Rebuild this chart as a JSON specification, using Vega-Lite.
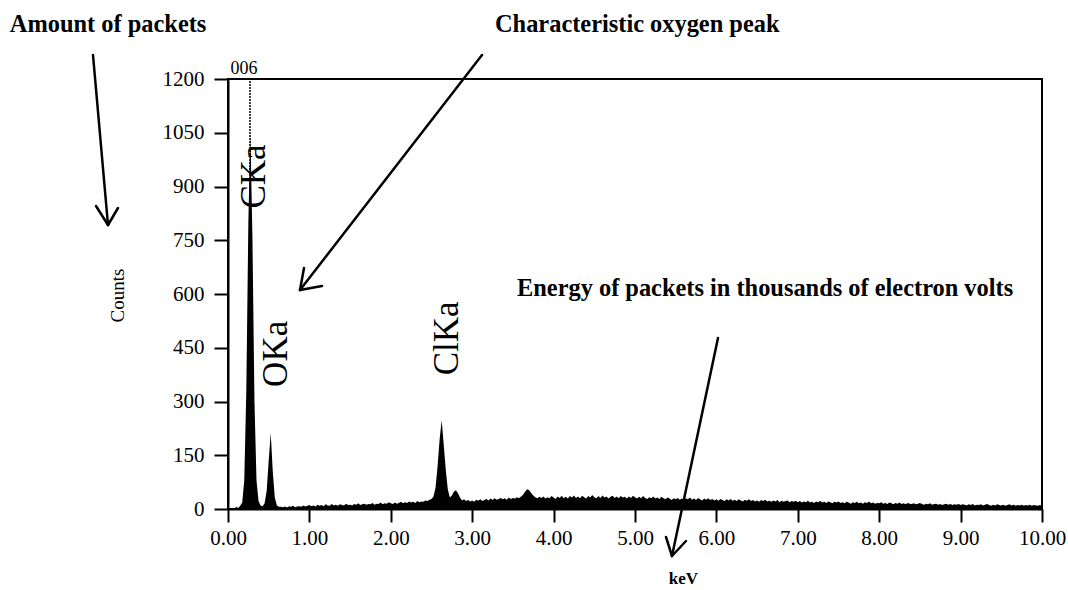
{
  "$schema": "https://vega.github.io/schema/vega-lite/v6.json",
  "width": 814,
  "height": 430,
  "autosize": {"type": "none"},
  "padding": {"left": 228, "top": 79, "right": 26, "bottom": 81},
  "background": "white",
  "config": {
    "font": "Liberation Serif",
    "view": {"stroke": "black", "strokeWidth": 2},
    "axis": {"labelFont": "Liberation Serif", "titleFont": "Liberation Serif", "labelColor": "black", "titleColor": "black", "domainColor": "black", "tickColor": "black", "domainWidth": 2, "tickWidth": 2, "grid": false, "labelFlush": false, "labelOverlap": false}
  },
  "datasets": {
    "spectrum": [
      {"e":0.000,"c":0},{"e":0.025,"c":0},{"e":0.050,"c":0},{"e":0.075,"c":0},{"e":0.100,"c":6},{"e":0.125,"c":3},{"e":0.150,"c":9},{"e":0.175,"c":18},{"e":0.200,"c":80},{"e":0.225,"c":330},{"e":0.250,"c":800},{"e":0.275,"c":1050},{"e":0.300,"c":760},{"e":0.325,"c":300},{"e":0.350,"c":80},{"e":0.375,"c":22},{"e":0.400,"c":10},{"e":0.425,"c":8},{"e":0.450,"c":16},{"e":0.475,"c":50},{"e":0.500,"c":135},{"e":0.525,"c":212},{"e":0.550,"c":105},{"e":0.575,"c":32},{"e":0.600,"c":10},{"e":0.625,"c":6},
      {"e":0.650,"c":6},{"e":0.675,"c":5},{"e":0.700,"c":7},{"e":0.725,"c":4},{"e":0.750,"c":8},{"e":0.775,"c":6},{"e":0.800,"c":9},{"e":0.825,"c":5},{"e":0.850,"c":7},{"e":0.875,"c":8},{"e":0.900,"c":6},{"e":0.925,"c":10},{"e":0.950,"c":7},{"e":0.975,"c":9},
      {"e":1.000,"c":11},{"e":1.025,"c":8},{"e":1.050,"c":10},{"e":1.075,"c":7},{"e":1.100,"c":12},{"e":1.125,"c":9},{"e":1.150,"c":11},{"e":1.175,"c":8},{"e":1.200,"c":13},{"e":1.225,"c":10},
      {"e":1.250,"c":9},{"e":1.275,"c":14},{"e":1.300,"c":10},{"e":1.325,"c":12},{"e":1.350,"c":9},{"e":1.375,"c":13},{"e":1.400,"c":11},{"e":1.425,"c":10},{"e":1.450,"c":15},{"e":1.475,"c":11},
      {"e":1.500,"c":12},{"e":1.525,"c":10},{"e":1.550,"c":14},{"e":1.575,"c":12},{"e":1.600,"c":16},{"e":1.625,"c":11},{"e":1.650,"c":13},{"e":1.675,"c":15},{"e":1.700,"c":12},{"e":1.725,"c":14},
      {"e":1.750,"c":13},{"e":1.775,"c":17},{"e":1.800,"c":12},{"e":1.825,"c":15},{"e":1.850,"c":14},{"e":1.875,"c":18},{"e":1.900,"c":13},{"e":1.925,"c":16},{"e":1.950,"c":15},{"e":1.975,"c":19},
      {"e":2.000,"c":16},{"e":2.025,"c":14},{"e":2.050,"c":18},{"e":2.075,"c":15},{"e":2.100,"c":17},{"e":2.125,"c":20},{"e":2.150,"c":16},{"e":2.175,"c":19},{"e":2.200,"c":17},{"e":2.225,"c":21},
      {"e":2.250,"c":18},{"e":2.275,"c":20},{"e":2.300,"c":17},{"e":2.325,"c":22},{"e":2.350,"c":19},{"e":2.375,"c":21},{"e":2.400,"c":20},{"e":2.425,"c":24},{"e":2.450,"c":22},{"e":2.475,"c":26},
      {"e":2.500,"c":28},{"e":2.525,"c":35},{"e":2.550,"c":60},{"e":2.575,"c":120},{"e":2.600,"c":195},{"e":2.625,"c":248},{"e":2.650,"c":180},{"e":2.675,"c":110},{"e":2.700,"c":55},{"e":2.725,"c":32},
      {"e":2.750,"c":38},{"e":2.775,"c":48},{"e":2.800,"c":52},{"e":2.825,"c":44},{"e":2.850,"c":32},{"e":2.875,"c":24},{"e":2.900,"c":27},{"e":2.925,"c":22},{"e":2.950,"c":25},{"e":2.975,"c":21},
      {"e":3.000,"c":24},{"e":3.025,"c":20},{"e":3.050,"c":26},{"e":3.075,"c":23},{"e":3.100,"c":27},{"e":3.125,"c":22},{"e":3.150,"c":25},{"e":3.175,"c":28},{"e":3.200,"c":24},{"e":3.225,"c":29},
      {"e":3.250,"c":25},{"e":3.275,"c":30},{"e":3.300,"c":26},{"e":3.325,"c":28},{"e":3.350,"c":31},{"e":3.375,"c":27},{"e":3.400,"c":30},{"e":3.425,"c":26},{"e":3.450,"c":32},{"e":3.475,"c":28},
      {"e":3.500,"c":31},{"e":3.525,"c":29},{"e":3.550,"c":33},{"e":3.575,"c":30},{"e":3.600,"c":35},{"e":3.625,"c":40},{"e":3.650,"c":48},{"e":3.675,"c":55},{"e":3.700,"c":52},{"e":3.725,"c":45},
      {"e":3.750,"c":38},{"e":3.775,"c":33},{"e":3.800,"c":30},{"e":3.825,"c":34},{"e":3.850,"c":31},{"e":3.875,"c":35},{"e":3.900,"c":29},{"e":3.925,"c":33},{"e":3.950,"c":30},{"e":3.975,"c":36},
      {"e":4.000,"c":32},{"e":4.025,"c":28},{"e":4.050,"c":35},{"e":4.075,"c":31},{"e":4.100,"c":37},{"e":4.125,"c":30},{"e":4.150,"c":34},{"e":4.175,"c":29},{"e":4.200,"c":36},{"e":4.225,"c":32},
      {"e":4.250,"c":38},{"e":4.275,"c":31},{"e":4.300,"c":35},{"e":4.325,"c":30},{"e":4.350,"c":37},{"e":4.375,"c":33},{"e":4.400,"c":29},{"e":4.425,"c":36},{"e":4.450,"c":32},{"e":4.475,"c":39},
      {"e":4.500,"c":33},{"e":4.525,"c":30},{"e":4.550,"c":36},{"e":4.575,"c":31},{"e":4.600,"c":38},{"e":4.625,"c":32},{"e":4.650,"c":35},{"e":4.675,"c":29},{"e":4.700,"c":34},{"e":4.725,"c":37},
      {"e":4.750,"c":31},{"e":4.775,"c":35},{"e":4.800,"c":30},{"e":4.825,"c":36},{"e":4.850,"c":32},{"e":4.875,"c":34},{"e":4.900,"c":29},{"e":4.925,"c":35},{"e":4.950,"c":31},{"e":4.975,"c":37},
      {"e":5.000,"c":33},{"e":5.025,"c":29},{"e":5.050,"c":34},{"e":5.075,"c":30},{"e":5.100,"c":36},{"e":5.125,"c":31},{"e":5.150,"c":28},{"e":5.175,"c":33},{"e":5.200,"c":30},{"e":5.225,"c":35},
      {"e":5.250,"c":29},{"e":5.275,"c":32},{"e":5.300,"c":28},{"e":5.325,"c":34},{"e":5.350,"c":30},{"e":5.375,"c":27},{"e":5.400,"c":32},{"e":5.425,"c":29},{"e":5.450,"c":25},{"e":5.475,"c":30},
      {"e":5.500,"c":27},{"e":5.525,"c":31},{"e":5.550,"c":26},{"e":5.575,"c":29},{"e":5.600,"c":25},{"e":5.625,"c":30},{"e":5.650,"c":27},{"e":5.675,"c":32},{"e":5.700,"c":26},{"e":5.725,"c":29},
      {"e":5.750,"c":25},{"e":5.775,"c":31},{"e":5.800,"c":27},{"e":5.825,"c":24},{"e":5.850,"c":29},{"e":5.875,"c":26},{"e":5.900,"c":30},{"e":5.925,"c":25},{"e":5.950,"c":28},{"e":5.975,"c":24},
      {"e":6.000,"c":27},{"e":6.025,"c":23},{"e":6.050,"c":28},{"e":6.075,"c":25},{"e":6.100,"c":22},{"e":6.125,"c":27},{"e":6.150,"c":24},{"e":6.175,"c":28},{"e":6.200,"c":23},{"e":6.225,"c":26},
      {"e":6.250,"c":22},{"e":6.275,"c":27},{"e":6.300,"c":24},{"e":6.325,"c":21},{"e":6.350,"c":26},{"e":6.375,"c":23},{"e":6.400,"c":27},{"e":6.425,"c":22},{"e":6.450,"c":25},{"e":6.475,"c":21},
      {"e":6.500,"c":24},{"e":6.525,"c":20},{"e":6.550,"c":25},{"e":6.575,"c":22},{"e":6.600,"c":26},{"e":6.625,"c":21},{"e":6.650,"c":23},{"e":6.675,"c":20},{"e":6.700,"c":24},{"e":6.725,"c":21},
      {"e":6.750,"c":25},{"e":6.775,"c":19},{"e":6.800,"c":23},{"e":6.825,"c":20},{"e":6.850,"c":22},{"e":6.875,"c":24},{"e":6.900,"c":19},{"e":6.925,"c":22},{"e":6.950,"c":20},{"e":6.975,"c":23},
      {"e":7.000,"c":19},{"e":7.025,"c":22},{"e":7.050,"c":18},{"e":7.075,"c":21},{"e":7.100,"c":19},{"e":7.125,"c":23},{"e":7.150,"c":18},{"e":7.175,"c":20},{"e":7.200,"c":17},{"e":7.225,"c":21},
      {"e":7.250,"c":19},{"e":7.275,"c":22},{"e":7.300,"c":18},{"e":7.325,"c":20},{"e":7.350,"c":17},{"e":7.375,"c":21},{"e":7.400,"c":19},{"e":7.425,"c":16},{"e":7.450,"c":20},{"e":7.475,"c":18},
      {"e":7.500,"c":21},{"e":7.525,"c":17},{"e":7.550,"c":19},{"e":7.575,"c":16},{"e":7.600,"c":20},{"e":7.625,"c":18},{"e":7.650,"c":15},{"e":7.675,"c":19},{"e":7.700,"c":17},{"e":7.725,"c":20},
      {"e":7.750,"c":16},{"e":7.775,"c":18},{"e":7.800,"c":15},{"e":7.825,"c":19},{"e":7.850,"c":17},{"e":7.875,"c":21},{"e":7.900,"c":16},{"e":7.925,"c":18},{"e":7.950,"c":15},{"e":7.975,"c":17},
      {"e":8.000,"c":16},{"e":8.025,"c":19},{"e":8.050,"c":15},{"e":8.075,"c":17},{"e":8.100,"c":14},{"e":8.125,"c":18},{"e":8.150,"c":16},{"e":8.175,"c":13},{"e":8.200,"c":17},{"e":8.225,"c":15},
      {"e":8.250,"c":18},{"e":8.275,"c":14},{"e":8.300,"c":16},{"e":8.325,"c":13},{"e":8.350,"c":17},{"e":8.375,"c":15},{"e":8.400,"c":14},{"e":8.425,"c":16},{"e":8.450,"c":13},{"e":8.475,"c":15},
      {"e":8.500,"c":17},{"e":8.525,"c":14},{"e":8.550,"c":12},{"e":8.575,"c":15},{"e":8.600,"c":13},{"e":8.625,"c":16},{"e":8.650,"c":12},{"e":8.675,"c":14},{"e":8.700,"c":15},{"e":8.725,"c":12},
      {"e":8.750,"c":14},{"e":8.775,"c":11},{"e":8.800,"c":13},{"e":8.825,"c":15},{"e":8.850,"c":12},{"e":8.875,"c":14},{"e":8.900,"c":11},{"e":8.925,"c":13},{"e":8.950,"c":12},{"e":8.975,"c":14},
      {"e":9.000,"c":11},{"e":9.025,"c":13},{"e":9.050,"c":12},{"e":9.075,"c":10},{"e":9.100,"c":13},{"e":9.125,"c":11},{"e":9.150,"c":14},{"e":9.175,"c":10},{"e":9.200,"c":12},{"e":9.225,"c":11},
      {"e":9.250,"c":13},{"e":9.275,"c":10},{"e":9.300,"c":12},{"e":9.325,"c":14},{"e":9.350,"c":11},{"e":9.375,"c":9},{"e":9.400,"c":12},{"e":9.425,"c":10},{"e":9.450,"c":13},{"e":9.475,"c":11},
      {"e":9.500,"c":10},{"e":9.525,"c":12},{"e":9.550,"c":9},{"e":9.575,"c":11},{"e":9.600,"c":13},{"e":9.625,"c":10},{"e":9.650,"c":12},{"e":9.675,"c":9},{"e":9.700,"c":11},{"e":9.725,"c":10},
      {"e":9.750,"c":12},{"e":9.775,"c":9},{"e":9.800,"c":11},{"e":9.825,"c":10},{"e":9.850,"c":12},{"e":9.875,"c":9},{"e":9.900,"c":11},{"e":9.925,"c":10},{"e":9.950,"c":9},{"e":9.975,"c":11},{"e":10.000,"c":10}
    ],
    "marker": [{"e": 0.27, "lo": 0, "hi": 1200, "label": "006", "le": 0.197, "ly": 1214}],
    "peaks": [
      {"e": 0.455, "c": 928, "label": "CKa"},
      {"e": 0.725, "c": 433, "label": "OKa"},
      {"e": 2.826, "c": 476, "label": "ClKa"}
    ],
    "notes": [
      {"e": -2.68, "c": 1331, "label": "Amount of packets"},
      {"e": 3.28, "c": 1331, "label": "Characteristic oxygen peak"},
      {"e": 3.55, "c": 594, "label": "Energy of packets in thousands of electron volts"}
    ],
    "arrows": [
      {"x": -1.6585, "y": 1266.98, "x2": -1.4742, "y2": 792.56},
      {"x": -1.6216, "y": 845.58, "x2": -1.4742, "y2": 792.56},
      {"x": -1.3514, "y": 840.0, "x2": -1.4742, "y2": 792.56},
      {"x": 3.1204, "y": 1266.98, "x2": 0.8845, "y2": 611.16},
      {"x": 1.1548, "y": 622.33, "x2": 0.8845, "y2": 611.16},
      {"x": 0.9337, "y": 672.56, "x2": 0.8845, "y2": 611.16},
      {"x": 6.0197, "y": 477.21, "x2": 5.4545, "y2": -131.16},
      {"x": 5.3808, "y": -78.14, "x2": 5.4545, "y2": -131.16},
      {"x": 5.6265, "y": -89.3, "x2": 5.4545, "y2": -131.16}
    ]
  },
  "layer": [
    {
      "data": {"name": "spectrum"},
      "mark": {"type": "area", "color": "black", "interpolate": "linear"},
      "encoding": {
        "x": {"field": "e", "type": "quantitative", "scale": {"domain": [0, 10], "nice": false, "zero": false},
          "axis": {"title": "keV", "values": [0,1,2,3,4,5,6,7,8,9,10], "format": ".2f", "labelFontSize": 21, "tickSize": 13, "labelPadding": 5, "titleFontSize": 17, "titleFontWeight": "bold", "titleX": 455, "titleY": 74, "titleBaseline": "alphabetic"}},
        "y": {"field": "c", "type": "quantitative", "scale": {"domain": [0, 1200], "nice": false},
          "axis": {"title": "Counts", "values": [0,150,300,450,600,750,900,1050,1200], "format": "d", "labelFontSize": 21, "tickSize": 14, "labelPadding": 10, "titleFontSize": 19, "titleFontWeight": "normal", "titleAngle": 270, "titleBaseline": "alphabetic", "titleAlign": "center", "titleX": -105, "titleY": 216}}
      }
    },
    {
      "data": {"name": "marker"},
      "mark": {"type": "rule", "color": "black", "strokeWidth": 1.5, "strokeDash": [2, 1]},
      "encoding": {
        "x": {"field": "e", "type": "quantitative"},
        "y": {"field": "lo", "type": "quantitative"},
        "y2": {"field": "hi"}
      }
    },
    {
      "data": {"name": "marker"},
      "mark": {"type": "text", "font": "Liberation Serif", "fontSize": 18, "align": "center", "baseline": "alphabetic", "color": "black"},
      "encoding": {
        "x": {"field": "le", "type": "quantitative"},
        "y": {"field": "ly", "type": "quantitative"},
        "text": {"field": "label"}
      }
    },
    {
      "data": {"name": "peaks"},
      "mark": {"type": "text", "font": "Liberation Serif", "fontSize": 35, "angle": 270, "align": "center", "baseline": "alphabetic", "color": "black"},
      "encoding": {
        "x": {"field": "e", "type": "quantitative"},
        "y": {"field": "c", "type": "quantitative"},
        "text": {"field": "label"}
      }
    },
    {
      "data": {"name": "notes"},
      "mark": {"type": "text", "font": "Liberation Serif", "fontSize": 24.4, "fontWeight": "bold", "align": "left", "baseline": "alphabetic", "color": "black"},
      "encoding": {
        "x": {"field": "e", "type": "quantitative"},
        "y": {"field": "c", "type": "quantitative"},
        "text": {"field": "label"}
      }
    },
    {
      "data": {"name": "arrows"},
      "mark": {"type": "rule", "color": "black", "strokeWidth": 2.5, "strokeCap": "round"},
      "encoding": {
        "x": {"field": "x", "type": "quantitative"},
        "y": {"field": "y", "type": "quantitative"},
        "x2": {"field": "x2"},
        "y2": {"field": "y2"}
      }
    }
  ]
}
